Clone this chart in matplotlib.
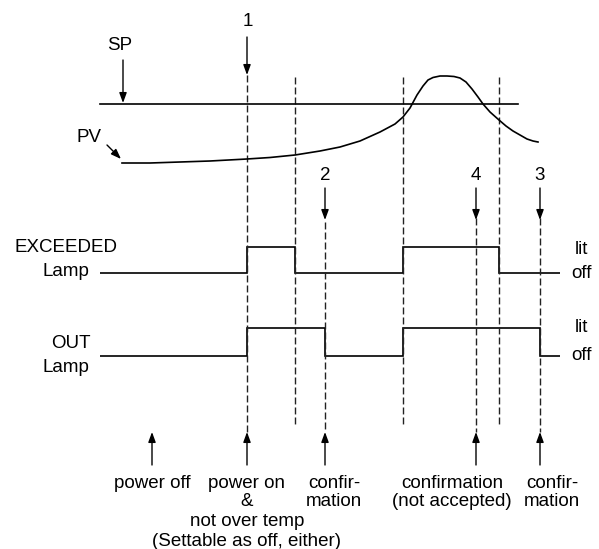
import matplotlib.pyplot as plt

plt.rcParams['font.family'] = ['Liberation Sans', 'DejaVu Sans']

# time marks of the dashed guide lines (x) and their vertical extent (top, bottom)
guide_x = [247, 295, 325, 403, 476, 499, 540]
guide_top = [75, 77, 222, 77, 218, 77, 218]
guide_bot = [432, 425, 432, 425, 432, 425, 432]

# set point line
sp_x = [100, 518]
sp_y = [104, 104]

# process value curve
pv_x = [122, 150, 180, 210, 247, 270, 295, 320, 340, 360, 380, 395, 403, 410, 417,
        423, 428, 433, 440, 447, 454, 460, 466, 472, 478, 483, 490, 499, 506, 513,
        520, 527, 533, 538]
pv_y = [163, 163, 162, 161, 159, 157.5, 155, 151, 147, 141, 132, 124, 117, 108, 95,
        86, 80, 77.5, 76, 76, 76.5, 78, 82, 89, 97, 104, 112, 120, 126, 131,
        135, 139, 141, 142]

# lamp states (0 = off, 1 = lit) between the edges
exceeded_edges = [100, 247, 295, 403, 499, 560]
exceeded_states = [0, 1, 0, 1, 0]
out_edges = [100, 247, 325, 403, 540, 560]
out_states = [0, 1, 0, 1, 0]

# numbered markers at the top
top_labels = ['1', '2', '4', '3']
top_x = [247, 325, 476, 540]

# event captions at the bottom
bottom_x = [152, 247, 334, 452, 552]
bottom_text = [['power off'],
               ['power on', '&', 'not over temp', '(Settable as off, either)'],
               ['confir-', 'mation'],
               ['confirmation', '(not accepted)'],
               ['confir-', 'mation']]
caption_y = [483, 502, 522, 541]
event_arrow_x = [152, 247, 325, 476, 540]

fig = plt.figure(figsize=(5.99, 5.49), dpi=100)
ax = fig.add_axes([0, 0, 1, 1])
ax.set_xlim(0, 599)
ax.set_ylim(549, 0)
ax.axis('off')

fs = 13.5
arrow = dict(arrowstyle='-|>,head_length=0.6,head_width=0.22', lw=1, color='k',
             shrinkA=0, shrinkB=0)

# dashed guide lines
for x, t, b in zip(guide_x, guide_top, guide_bot):
    ax.plot([x, x], [t, b], color='#222222', lw=1, linestyle=(0, (5, 2.2)))

# SP and PV
ax.plot(sp_x, sp_y, color='k', lw=1.2)
ax.plot(pv_x, pv_y, color='k', lw=1.2)
ax.annotate('', xy=(123, 103), xytext=(123, 60), arrowprops=arrow)
ax.text(120, 45, 'SP', fontsize=fs, ha='center', va='center')
ax.annotate('', xy=(121, 159), xytext=(107, 145), arrowprops=arrow)
ax.text(89, 138, 'PV', fontsize=fs, ha='center', va='center')

# lamps
ex_levels = [273 - 26 * s for s in exceeded_states]
out_levels = [356 - 28 * s for s in out_states]
ax.stairs(ex_levels, exceeded_edges, baseline=None, color='k', lw=1.2)
ax.stairs(out_levels, out_edges, baseline=None, color='k', lw=1.2)

ax.text(66, 248, 'EXCEEDED', fontsize=fs, ha='center', va='center')
ax.text(66, 272, 'Lamp', fontsize=fs, ha='center', va='center')
ax.text(71, 343, 'OUT', fontsize=fs, ha='center', va='center')
ax.text(66, 367, 'Lamp', fontsize=fs, ha='center', va='center')
for y_lit, y_off in [(250, 273), (328, 356)]:
    ax.text(581, y_lit, 'lit', fontsize=fs, ha='center', va='center')
    ax.text(581, y_off, 'off', fontsize=fs, ha='center', va='center')

# numbered arrows on top
for lab, x in zip(top_labels, top_x):
    if lab == '1':
        ax.annotate('', xy=(x, 75), xytext=(x, 37), arrowprops=arrow)
        ax.text(x + 1, 22, lab, fontsize=fs, ha='center', va='center')
    else:
        ax.annotate('', xy=(x, 220), xytext=(x, 188), arrowprops=arrow)
        ax.text(x, 176, lab, fontsize=fs, ha='center', va='center')

# event arrows and captions at the bottom
for x, lines in zip(bottom_x, bottom_text):
    for y, line in zip(caption_y, lines):
        ax.text(x, y, line, fontsize=fs, ha='center', va='center')
for x in event_arrow_x:
    ax.annotate('', xy=(x, 432), xytext=(x, 465), arrowprops=arrow)

fig.savefig('out.png', dpi=100)
